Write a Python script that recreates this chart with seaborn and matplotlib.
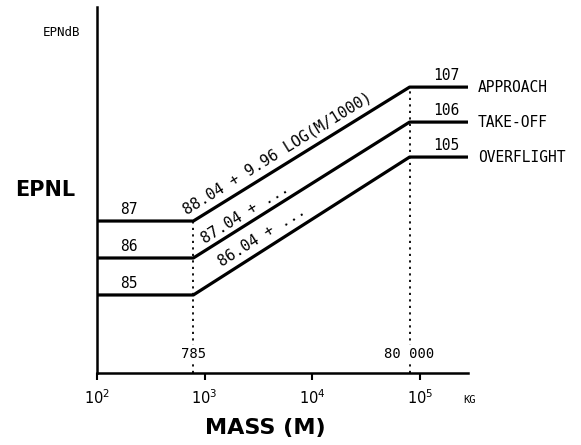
import numpy as np
import pandas as pd
import matplotlib
matplotlib.use("Agg")
import matplotlib.pyplot as plt
import seaborn as sns

# chart values
modes = ["APPROACH", "TAKE-OFF", "OVERFLIGHT"]
low_epnl = [87, 86, 85]
high_epnl = [107, 106, 105]
mass_points = [100, 785, 80000, 279000]
break_masses = [785, 80000]
break_labels = ["785", "80 000"]
formula_labels = ["88.04 + 9.96 LOG(M/1000)", "87.04 + ...", "86.04 + ..."]
formula_mass = [750, 1070, 1585]
xtick_values = [1e2, 1e3, 1e4, 1e5]
xtick_labels = [r"$10^{2}$", r"$10^{3}$", r"$10^{4}$", r"$10^{5}$"]

rows = []
for m, lo, hi in zip(modes, low_epnl, high_epnl):
    for mass, lev in zip(mass_points, [lo, lo, hi, hi]):
        rows.append({"mode": m, "mass": mass, "epnl": lev})
df = pd.DataFrame(rows)

sns.set_style("white")
plt.rcParams["text.color"] = "black"
mono = "DejaVu Sans Mono"

fig = plt.figure(figsize=(5.81, 4.45), dpi=100)
ax = fig.add_axes([97 / 581, 72 / 445, (468 - 97) / 581, 366 / 445])

# schematic (broken) EPNL axis: compressed between 87 and 105 EPNdB
yb = [75, 87, 105, 115]
yv = [-292, 152, 216, 566]
ax.set_yscale("function", functions=(lambda y: np.interp(y, yb, yv),
                                     lambda v: np.interp(v, yv, yb)))
ax.set_xscale("log")

sns.lineplot(data=df, x="mass", y="epnl", units="mode", estimator=None,
             color="black", linewidth=2.3, ax=ax, legend=False)

ax.set_xlim(100, 279000)
ax.set_ylim(82.89, 109.29)

for bm, top, lab in zip(break_masses, [low_epnl[0], high_epnl[0]], break_labels):
    ax.plot([bm, bm], [82.89, top], color="black", linewidth=1.3,
            linestyle=(0, (1.2, 2.4)))
    ax.annotate(lab, xy=(bm, 82.89), xytext=(0, 9), textcoords="offset points",
                ha="center", va="bottom", fontsize=10, family=mono, zorder=5,
                bbox=dict(facecolor="white", edgecolor="none", pad=1))

for lo, hi, m in zip(low_epnl, high_epnl, modes):
    ax.annotate(str(lo), xy=(198, lo), xytext=(0, 3), textcoords="offset points",
                ha="center", va="bottom", fontsize=10.5, family=mono)
    ax.annotate(str(hi), xy=(174000, hi), xytext=(0, 3), textcoords="offset points",
                ha="center", va="bottom", fontsize=10.5, family=mono,
                annotation_clip=False)
    ax.annotate(m, xy=(279000, hi), xytext=(7, 0), textcoords="offset points",
                ha="left", va="center", fontsize=10.5, family=mono,
                annotation_clip=False)

# formula labels along the sloped segments (straight in display space)
offs = [8.8, 5.4, 8.4]
for lab, fm, lo, hi, d in zip(formula_labels, formula_mass, low_epnl, high_epnl, offs):
    p1 = ax.transData.transform((785, lo))
    p2 = ax.transData.transform((80000, hi))
    ang = np.arctan2(p2[1] - p1[1], p2[0] - p1[0])
    t = np.log10(fm / 785) / np.log10(80000 / 785)
    pt = ax.transData.inverted().transform(p1 + t * (p2 - p1))
    dpt = d * 0.72
    ax.annotate(lab, xy=(pt[0], pt[1]),
                xytext=(-np.sin(ang) * dpt, np.cos(ang) * dpt),
                textcoords="offset points", rotation=np.degrees(ang),
                rotation_mode="anchor", ha="left", va="baseline",
                fontsize=11, family=mono)

ax.set_xticks(xtick_values)
ax.set_xticklabels(xtick_labels, fontsize=10.5)
ax.xaxis.set_minor_locator(matplotlib.ticker.NullLocator())
ax.set_yticks([])
ax.yaxis.set_minor_locator(matplotlib.ticker.NullLocator())
ax.tick_params(axis="x", direction="out", length=5, width=1.5, pad=6,
               bottom=True, colors="black")
for s in ["top", "right"]:
    ax.spines[s].set_visible(False)
for s in ["left", "bottom"]:
    ax.spines[s].set_color("black")
    ax.spines[s].set_linewidth(1.8)
ax.set_xlabel("")
ax.set_ylabel("")

fig.text(463 / 581, 1 - 400 / 445, "KG", fontsize=7.5, family=mono,
         ha="left", va="center")
fig.text(62 / 581, 1 - 32 / 445, "EPNdB", fontsize=9, family=mono,
         ha="center", va="center")
fig.text(45 / 581, 1 - 190 / 445, "EPNL", fontsize=15, weight="bold",
         ha="center", va="center")
fig.text(265 / 581, 1 - 428 / 445, "MASS (M)", fontsize=16, weight="bold",
         ha="center", va="center")

fig.savefig("out.png", dpi=100)
